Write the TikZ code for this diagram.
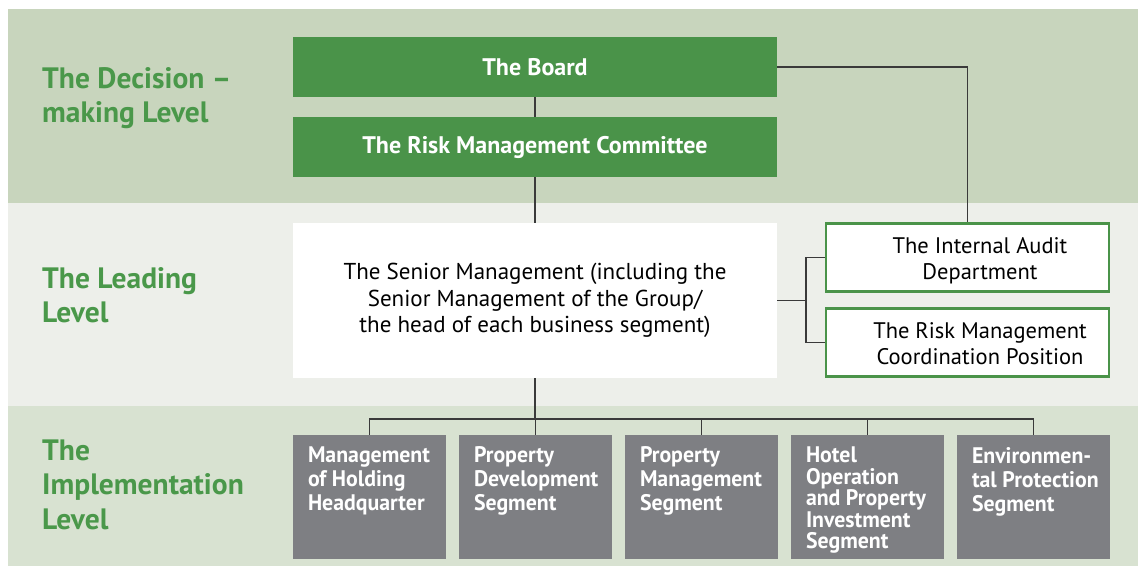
\documentclass[tikz,border=0pt]{standalone}
\usepackage{fontspec}
\setmainfont{PT Sans}
\newfontfamily\condfont{PT Sans}[FakeStretch=0.97]
\definecolor{topband}{HTML}{C8D5BD}
\definecolor{midband}{HTML}{EDEFEA}
\definecolor{botband}{HTML}{D8E2D1}
\definecolor{boxgreen}{HTML}{4A9349}
\definecolor{lblgreen}{HTML}{4A984A}
\definecolor{boxgray}{HTML}{7E7F83}
\definecolor{linecol}{HTML}{3A3A3A}
\tikzset{
  greenbox/.style={fill=boxgreen, minimum width=484pt, minimum height=60pt, inner sep=0pt,
    text=white, font=\fontsize{24}{28}\selectfont\bfseries},
  whitebox/.style={fill=white, minimum width=484pt, minimum height=155pt, inner sep=0pt,
    align=center, font=\fontsize{23}{26.5}\selectfont},
  sidebox/.style={fill=white, draw=boxgreen, line width=2.4pt, minimum width=283pt, minimum height=68pt,
    inner sep=0pt, font=\fontsize{22.5}{26}\selectfont},
  graybox/.style={fill=boxgray, minimum width=153pt, minimum height=124pt, inner sep=0pt},
  graytext/.style={anchor=north west, inner sep=0pt, align=left, text=white,
    font=\condfont\fontsize{22.5}{24}\selectfont\bfseries},
  lvl/.style={anchor=west, inner sep=0pt, align=left, text=lblgreen,
    font=\fontsize{29.5}{34.5}\selectfont\bfseries},
  conn/.style={draw=linecol, line width=1.1pt},
}
\begin{document}
\begin{tikzpicture}[x=1pt, y=-1pt]
\useasboundingbox (0,0) rectangle (1138,566);
% bands
\fill[topband] (8,9) rectangle (1138,203);
\fill[midband] (8,203) rectangle (1138,406);
\fill[botband] (8,406) rectangle (1138,566);
% level labels
\node[lvl] (l1) at (42,98) {The Decision –\\making Level};
\node[lvl] (l2) at (42,295) {The Leading\\Level};
\node[lvl] (l3) at (42,484.5) {The\\Implementation\\Level};
% main boxes
\node[greenbox] (board) at (535,67) {The Board};
\node[greenbox] (rmc) at (535,147) {The Risk Management Committee};
\node[whitebox] (senior) at (535,300.5) {The Senior Management (including the\\Senior Management of the Group/\\the head of each business segment)};
\node[sidebox] (audit) at (967.5,257.5) {\hspace*{25pt}\raisebox{-4pt}[\height][\depth]{\begin{tabular}{@{}c@{}}The Internal Audit\\Department\end{tabular}}};
\node[sidebox] (rmcp) at (967.5,342.5) {\hspace*{25pt}\raisebox{-4pt}[\height][\depth]{\begin{tabular}{@{}c@{}}The Risk Management\\Coordination Position\end{tabular}}};
% gray boxes
\node[graybox] (g1) at (369.5,497) {};
\node[graybox] (g2) at (535.5,497) {};
\node[graybox] (g3) at (701.5,497) {};
\node[graybox] (g4) at (867.5,497) {};
\node[graybox] (g5) at (1033.5,497) {};
\node[graytext] (t1) at ([xshift=15pt,yshift=-12pt]g1.north west) {Management\\of Holding\\Headquarter};
\node[graytext] (t2) at ([xshift=15pt,yshift=-12pt]g2.north west) {Property\\Development\\Segment};
\node[graytext] (t3) at ([xshift=15pt,yshift=-12pt]g3.north west) {Property\\Management\\Segment};
\node[graytext, font=\condfont\fontsize{22.5}{21.5}\selectfont\bfseries] (t4) at ([xshift=15pt,yshift=-12pt]g4.north west) {Hotel\\Operation\\and Property\\Investment\\Segment};
\node[graytext] (t5) at ([xshift=15pt,yshift=-12pt]g5.north west) {Environmen-\\tal Protection\\Segment};
% connectors
\draw[conn] (board.south) -- (rmc.north);
\draw[conn] (rmc.south) -- (senior.north);
\draw[conn] (board.east) -| (audit.north);
\coordinate (br) at (806,300.5);
\draw[conn] (senior.east) -- (br);
\draw[conn] (audit.west) -| (br |- audit.west) |- (rmcp.west);
\coordinate (bus) at (535,419);
\draw[conn] (senior.south) -- (bus);
\draw[conn] (g1.north) -- (g1.north |- bus) -- (g5.north |- bus) -- (g5.north);
\draw[conn] (g2.north) -- (g2.north |- bus);
\draw[conn] (g3.north) -- (g3.north |- bus);
\draw[conn] (g4.north) -- (g4.north |- bus);
\end{tikzpicture}
\end{document}
